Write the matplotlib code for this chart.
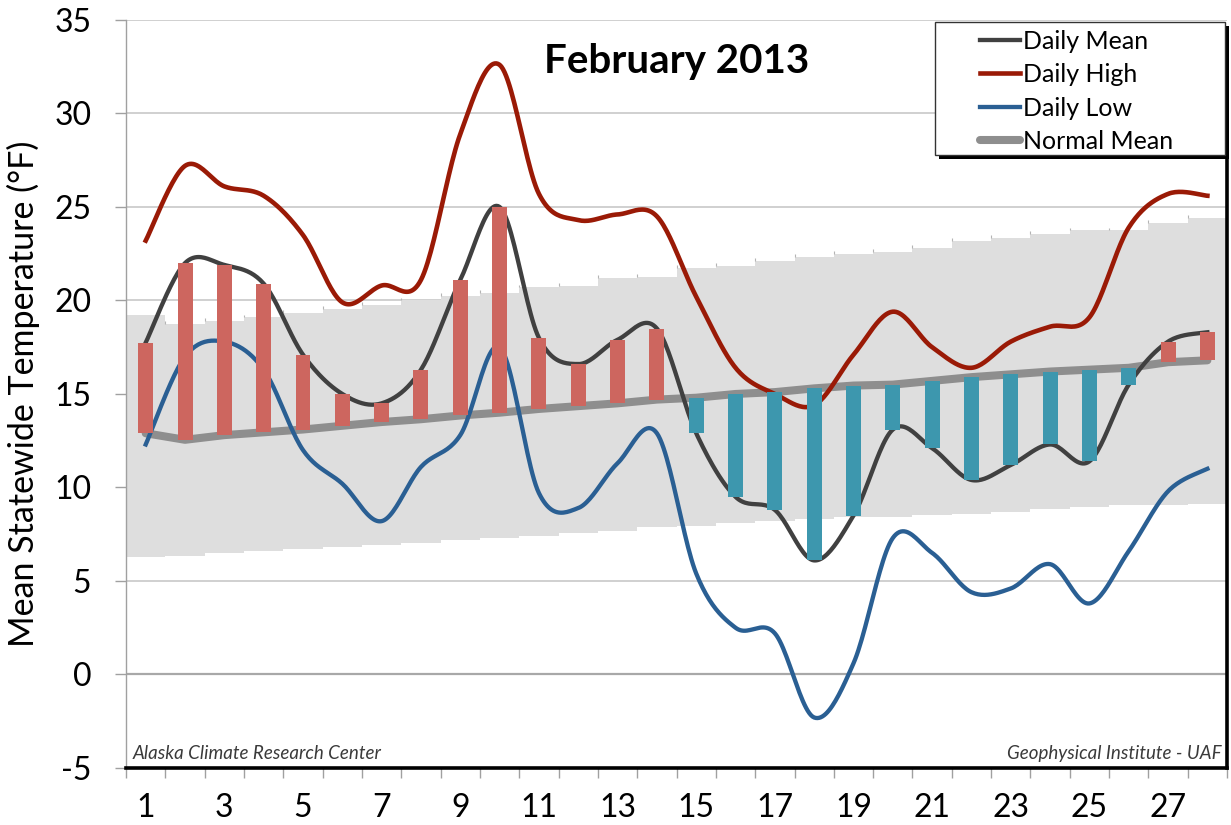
import numpy as np
import matplotlib.pyplot as plt
from matplotlib.patches import Rectangle
from matplotlib.ticker import MultipleLocator, FixedLocator

plt.rcParams['font.family'] = ['Lato', 'DejaVu Sans']
plt.rcParams['axes.unicode_minus'] = False

# statewide values (deg F)
days = np.arange(1, 29)
daily_mean = [17.75, 22.0, 21.9, 20.9, 17.1, 15.0, 14.5, 16.3, 21.1, 25.0, 18.0, 16.6, 17.9, 18.5,
              12.9, 9.5, 8.8, 6.1, 8.5, 13.1, 12.1, 10.4, 11.2, 12.3, 11.4, 15.5, 17.8, 18.3]
daily_high = [23.2, 27.2, 26.1, 25.6, 23.5, 19.9, 20.8, 21.1, 28.9, 32.6, 25.7, 24.3, 24.6, 24.5,
              20.2, 16.4, 15.0, 14.4, 17.1, 19.4, 17.5, 16.4, 17.8, 18.6, 19.1, 23.9, 25.7, 25.6]
daily_low = [12.3, 17.0, 17.8, 16.3, 12.0, 10.2, 8.2, 11.1, 12.8, 17.5, 9.7, 8.9, 11.3, 12.9,
             5.4, 2.5, 2.2, -2.3, 0.6, 7.3, 6.5, 4.4, 4.6, 5.9, 3.8, 6.6, 9.8, 11.0]
normal_mean = [12.9, 12.55, 12.8, 12.95, 13.1, 13.3, 13.5, 13.65, 13.85, 14.0, 14.2, 14.35, 14.5, 14.7,
               14.8, 15.0, 15.1, 15.3, 15.45, 15.5, 15.7, 15.9, 16.05, 16.2, 16.3, 16.4, 16.7, 16.8]
normal_high = [19.25, 18.75, 18.9, 19.1, 19.35, 19.55, 19.75, 20.0, 20.25, 20.4, 20.7, 20.8, 21.2, 21.25,
               21.75, 21.85, 22.1, 22.35, 22.5, 22.6, 22.8, 23.2, 23.35, 23.55, 23.75, 23.75, 24.15, 24.4]
normal_low = [6.3, 6.35, 6.5, 6.6, 6.7, 6.8, 6.95, 7.05, 7.2, 7.3, 7.4, 7.55, 7.65, 7.9,
              7.95, 8.1, 8.2, 8.3, 8.4, 8.4, 8.55, 8.6, 8.7, 8.85, 8.95, 9.05, 9.05, 9.1]
day_labels = [str(d) for d in range(1, 28, 2)]


def smooth(x, y, n=24):
    # excel style smoothed line (catmull-rom through the points)
    x = np.asarray(x, float)
    y = np.asarray(y, float)
    px = np.concatenate([[x[0]], x, [x[-1]]])
    py = np.concatenate([[y[0]], y, [y[-1]]])
    t = np.linspace(0, 1, n, endpoint=False)[:, None]
    xs, ys = [], []
    for k in range(len(x) - 1):
        p0 = np.array([px[k], py[k]])
        p1 = np.array([px[k + 1], py[k + 1]])
        p2 = np.array([px[k + 2], py[k + 2]])
        p3 = np.array([px[k + 3], py[k + 3]])
        b1 = p1 + (p2 - p0) / 6
        b2 = p2 - (p3 - p1) / 6
        pts = ((1 - t) ** 3) * p1 + 3 * ((1 - t) ** 2) * t * b1 + 3 * (1 - t) * t ** 2 * b2 + t ** 3 * p2
        xs.append(pts[:, 0])
        ys.append(pts[:, 1])
    xs.append([x[-1]])
    ys.append([y[-1]])
    return np.concatenate(xs), np.concatenate(ys)


fig = plt.figure(figsize=(12.31, 8.25), dpi=100)
ax = fig.add_axes([0.1024, 0.0691, 0.8944, 0.9067])

nh = np.array(normal_high)
nl = np.array(normal_low)
nm = np.array(normal_mean)
dm = np.array(daily_mean)

# normal range band
ax.bar(days, nh - nl, bottom=nl, width=1.0, color='#DEDEDE', zorder=1, linewidth=0)
# little step marks on top of the band
ax.vlines(days[1:] - 0.5, nh[1:], nh[1:] + 0.15, color='#B4B4B4', lw=0.8, zorder=1.05)
ax.axhline(0, color='#A8A8A8', lw=1.6, zorder=1.1)

# lines
ax.plot(days, normal_mean, color='#8E8E8E', lw=5.8, solid_capstyle='round', zorder=2, label='Normal Mean')
sx, sy = smooth(days, daily_mean)
ax.plot(sx, sy, color='#404040', lw=3.1, zorder=3, label='Daily Mean')
sx, sy = smooth(days, daily_high)
ax.plot(sx, sy, color='#9A1A06', lw=3.3, zorder=3, label='Daily High')
sx, sy = smooth(days, daily_low)
ax.plot(sx, sy, color='#2A5F93', lw=3.1, zorder=3, label='Daily Low')

# departure bars
diff = dm - nm
colors = ['#CD665F' if d >= 0 else '#3D97AE' for d in diff]
ax.bar(days, diff, bottom=nm, width=0.38, color=colors, zorder=4, linewidth=0)

ax.set_xlim(0.5, 28.5)
ax.set_ylim(-5, 35)

ax.yaxis.set_major_locator(MultipleLocator(5))
ax.yaxis.grid(True, color='#C8C8C8', lw=1.2)
ax.set_axisbelow(True)
ax.tick_params(axis='y', which='major', direction='out', length=8, width=1, color='#A0A0A0',
               labelsize=23, pad=17)

ax.xaxis.set_major_locator(FixedLocator(np.arange(0.5, 29, 1)))
ax.xaxis.set_major_formatter(plt.NullFormatter())
ax.xaxis.set_minor_locator(FixedLocator(np.arange(1, 28, 2)))
ax.set_xticklabels(day_labels, minor=True)
ax.tick_params(axis='x', which='major', direction='out', length=7, width=1, color='#A0A0A0')
ax.tick_params(axis='x', which='minor', length=0, labelsize=23, pad=18)

ax.spines['top'].set_visible(False)
ax.spines['left'].set_color('#A0A0A0')
ax.spines['left'].set_linewidth(1)
ax.spines['bottom'].set_color('black')
ax.spines['bottom'].set_linewidth(2.6)
ax.spines['right'].set_color('black')
ax.spines['right'].set_linewidth(2.6)
ax.spines['right'].set_bounds(-5, 28)

ax.set_ylabel('Mean Statewide Temperature (°F)', fontsize=24.5, labelpad=10)

ax.text(0.5, 0.9445, 'February 2013', transform=ax.transAxes, ha='center', va='center',
        fontsize=29, fontweight='bold')
ax.text(0.0064, 0.019, 'Alaska Climate Research Center', transform=ax.transAxes, ha='left',
        va='center', fontsize=13.5, style='italic', color='#3A3A3A')
ax.text(0.9955, 0.019, 'Geophysical Institute - UAF', transform=ax.transAxes, ha='right',
        va='center', fontsize=13.5, style='italic', color='#3A3A3A')

# legend box with drop shadow
x0, y0, w, h = 0.735, 0.82, 0.263, 0.177
ax.add_patch(Rectangle((x0 + 0.0036, y0 - 0.0053), w, h, transform=ax.transAxes, fc='black',
                       ec='none', zorder=5, clip_on=False))
ax.add_patch(Rectangle((x0, y0), w, h, transform=ax.transAxes, fc='white', ec='#333333',
                       lw=1, zorder=5.1, clip_on=False))
hnd, lab = ax.get_legend_handles_labels()
order = ['Daily Mean', 'Daily High', 'Daily Low', 'Normal Mean']
hnd = [hnd[lab.index(o)] for o in order]
leg = ax.legend(hnd, order, loc='center', bbox_to_anchor=(x0 + w / 2 - 0.003, y0 + h / 2 - 0.004),
                frameon=False, fontsize=18, handlelength=1.6, handletextpad=0.1,
                labelspacing=0.42, borderpad=0)
leg.set_zorder(6)

fig.savefig('out.png', dpi=100)
